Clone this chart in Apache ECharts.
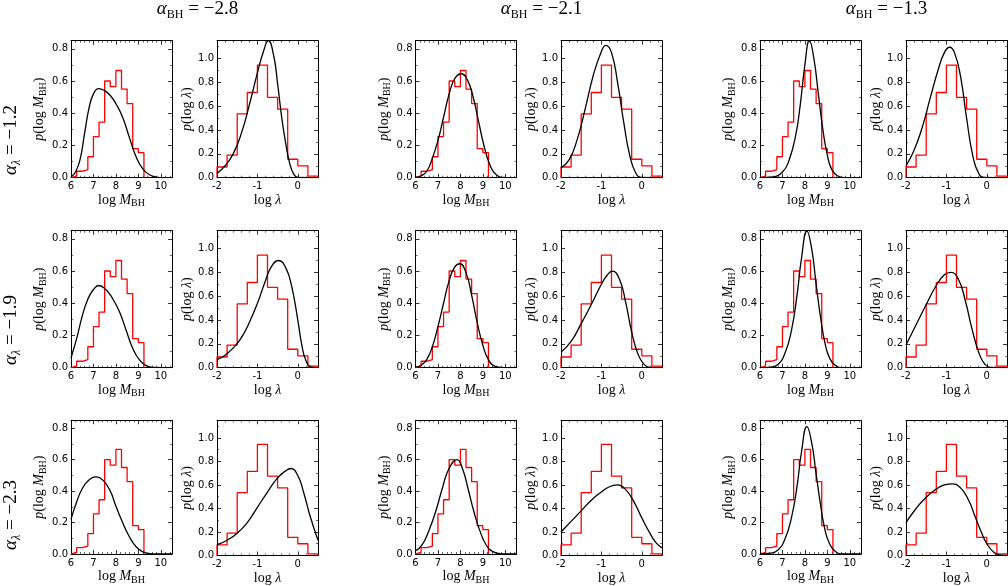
<!DOCTYPE html>
<html>
<head>
<meta charset="utf-8">
<script src="https://cdn.jsdelivr.net/npm/echarts@6/dist/echarts.min.js"></script>
<style>
html, body { margin: 0; background: #fff; }
#chart { width: 1008px; height: 586px; }
</style>
</head>
<body>
<div id="chart"></div>
<script>
// column / row parameter values
var alphaBH = ['−2.8', '−2.1', '−1.3'];
var alphaLam = ['−1.2', '−1.9', '−2.3'];

// observed histograms (same in every panel)
var mbhEdges = [6.0, 6.25, 6.5, 6.75, 7.0, 7.25, 7.5, 7.75, 8.0, 8.25, 8.5, 8.75, 9.0, 9.25];
var mbhHist = [0.01, 0.04, 0.05, 0.13, 0.255, 0.345, 0.60, 0.565, 0.665, 0.55, 0.46, 0.18, 0.155];
var lamEdges = [-2.0, -1.75, -1.5, -1.25, -1.0, -0.75, -0.5, -0.25, 0.0, 0.25, 0.5];
var lamHist = [0.09, 0.19, 0.535, 0.715, 0.945, 0.675, 0.575, 0.155, 0.10, 0.013];

// model curves, p(log M_BH), row = alpha_lambda, col = alpha_BH
var mbh_r1c1 = [[6.0,0.005],[6.2,0.035],[6.4,0.11],[6.6,0.27],[6.8,0.43],[7.0,0.52],[7.23,0.553],[7.5,0.54],[7.75,0.51],[8.0,0.46],[8.3,0.375],[8.6,0.25],[8.9,0.13],[9.2,0.055],[9.5,0.018],[9.8,0.004],[10.1,0],[10.5,0]];
var mbh_r1c2 = [[6.0,0.003],[6.25,0.012],[6.5,0.04],[6.75,0.12],[7.0,0.23],[7.25,0.375],[7.5,0.52],[7.75,0.615],[8.04,0.645],[8.3,0.61],[8.55,0.51],[8.8,0.355],[9.05,0.2],[9.3,0.085],[9.6,0.018],[10.0,0.001],[10.5,0]];
var mbh_r1c3 = [[6.0,0],[6.5,0.003],[7.0,0.035],[7.3,0.11],[7.6,0.27],[7.8,0.46],[8.0,0.70],[8.2,0.85],[8.4,0.74],[8.6,0.52],[8.8,0.30],[9.0,0.14],[9.2,0.05],[9.45,0.012],[9.8,0],[10.5,0]];
var mbh_r2c1 = [[6.0,0.06],[6.25,0.18],[6.5,0.32],[6.75,0.425],[7.0,0.485],[7.24,0.51],[7.55,0.485],[7.85,0.43],[8.15,0.35],[8.45,0.235],[8.75,0.12],[9.05,0.048],[9.35,0.013],[9.7,0.002],[10.5,0]];
var mbh_r2c2 = [[6.0,0.003],[6.25,0.015],[6.5,0.05],[6.75,0.13],[7.0,0.255],[7.25,0.40],[7.5,0.54],[7.75,0.625],[7.97,0.645],[8.25,0.59],[8.5,0.45],[8.75,0.28],[9.0,0.14],[9.25,0.05],[9.55,0.008],[10.0,0],[10.5,0]];
var mbh_r2c3 = [[6.0,0],[6.5,0.004],[6.8,0.02],[7.1,0.085],[7.4,0.23],[7.65,0.45],[7.85,0.68],[8.09,0.847],[8.3,0.74],[8.5,0.52],[8.7,0.31],[8.9,0.15],[9.1,0.06],[9.35,0.015],[9.7,0],[10.5,0]];
var mbh_r3c1 = [[6.0,0.22],[6.25,0.33],[6.5,0.415],[6.8,0.47],[7.13,0.49],[7.45,0.465],[7.75,0.40],[8.0,0.305],[8.3,0.20],[8.6,0.11],[8.9,0.046],[9.2,0.014],[9.6,0.001],[10.5,0]];
var mbh_r3c2 = [[6.0,0.02],[6.3,0.06],[6.6,0.15],[6.9,0.27],[7.2,0.42],[7.5,0.545],[7.85,0.60],[8.1,0.54],[8.35,0.41],[8.6,0.27],[8.85,0.155],[9.15,0.057],[9.45,0.015],[9.85,0.001],[10.5,0]];
var mbh_r3c3 = [[6.0,0],[6.5,0.005],[6.8,0.025],[7.1,0.09],[7.4,0.23],[7.65,0.43],[7.85,0.65],[8.09,0.81],[8.3,0.71],[8.5,0.51],[8.7,0.31],[8.9,0.15],[9.1,0.065],[9.35,0.017],[9.7,0],[10.5,0]];

// model curves, p(log lambda)
var lam_r1c1 = [[-2,0.035],[-1.8,0.10],[-1.6,0.20],[-1.4,0.37],[-1.2,0.61],[-1.0,0.88],[-0.85,1.06],[-0.73,1.15],[-0.6,1.03],[-0.5,0.79],[-0.4,0.51],[-0.3,0.29],[-0.2,0.12],[-0.1,0.03],[0.0,0.003],[0.5,0]];
var lam_r1c2 = [[-2,0.084],[-1.8,0.15],[-1.6,0.32],[-1.4,0.58],[-1.2,0.86],[-1.0,1.06],[-0.89,1.11],[-0.75,1.05],[-0.6,0.80],[-0.45,0.47],[-0.3,0.19],[-0.15,0.04],[0.0,0.002],[0.5,0]];
var lam_r1c3 = [[-2,0.10],[-1.8,0.23],[-1.6,0.42],[-1.4,0.67],[-1.2,0.91],[-1.05,1.05],[-0.92,1.095],[-0.8,1.05],[-0.65,0.85],[-0.5,0.50],[-0.35,0.19],[-0.2,0.035],[-0.05,0.002],[0.5,0]];
var lam_r2c1 = [[-2,0.067],[-1.8,0.105],[-1.6,0.165],[-1.4,0.25],[-1.2,0.38],[-1.0,0.54],[-0.8,0.73],[-0.65,0.85],[-0.48,0.90],[-0.3,0.84],[-0.15,0.68],[0.0,0.40],[0.1,0.19],[0.2,0.06],[0.32,0.008],[0.5,0]];
var lam_r2c2 = [[-2,0.13],[-1.75,0.22],[-1.5,0.37],[-1.25,0.53],[-1.0,0.70],[-0.85,0.78],[-0.73,0.81],[-0.55,0.74],[-0.4,0.55],[-0.25,0.30],[-0.1,0.12],[0.05,0.03],[0.2,0.003],[0.5,0]];
var lam_r2c3 = [[-2,0.19],[-1.75,0.36],[-1.5,0.53],[-1.25,0.69],[-1.05,0.78],[-0.89,0.80],[-0.7,0.74],[-0.53,0.56],[-0.37,0.33],[-0.2,0.13],[-0.05,0.03],[0.1,0.003],[0.5,0]];
var lam_r3c1 = [[-2,0.09],[-1.75,0.13],[-1.5,0.19],[-1.25,0.28],[-1.0,0.41],[-0.75,0.54],[-0.5,0.66],[-0.3,0.72],[-0.17,0.74],[0.0,0.68],[0.15,0.53],[0.3,0.34],[0.5,0.13]];
var lam_r3c2 = [[-2,0.20],[-1.75,0.29],[-1.5,0.38],[-1.25,0.47],[-1.0,0.54],[-0.8,0.585],[-0.6,0.60],[-0.4,0.56],[-0.2,0.46],[0.0,0.32],[0.2,0.19],[0.35,0.11],[0.5,0.065]];
var lam_r3c3 = [[-2,0.28],[-1.75,0.40],[-1.5,0.495],[-1.25,0.565],[-1.05,0.60],[-0.86,0.61],[-0.65,0.575],[-0.45,0.47],[-0.3,0.34],[-0.15,0.21],[0.0,0.10],[0.15,0.035],[0.3,0.006],[0.5,0]];

var mbhFits = [[mbh_r1c1, mbh_r1c2, mbh_r1c3], [mbh_r2c1, mbh_r2c2, mbh_r2c3], [mbh_r3c1, mbh_r3c2, mbh_r3c3]];
var lamFits = [[lam_r1c1, lam_r1c2, lam_r1c3], [lam_r2c1, lam_r2c2, lam_r2c3], [lam_r3c1, lam_r3c2, lam_r3c3]];

// layout of the panels (px)
var colLeft = [71, 217, 415.5, 561, 760, 906];
var rowTop = [40.7, 230.7, 420.3];
var panelW = 101, panelH = 137;

var serif = 'Liberation Serif';
var richName = {
    r: { fontFamily: serif, fontSize: 14, color: '#000', lineHeight: 17 },
    i: { fontFamily: serif, fontSize: 14, fontStyle: 'italic', color: '#000', lineHeight: 17 },
    s: { fontFamily: serif, fontSize: 10, color: '#000', lineHeight: 10, verticalAlign: 'bottom' }
};
var richBig = {
    r: { fontFamily: serif, fontSize: 19, color: '#000', lineHeight: 23 },
    i: { fontFamily: serif, fontSize: 19, fontStyle: 'italic', color: '#000', lineHeight: 23 },
    s: { fontFamily: serif, fontSize: 12, color: '#000', lineHeight: 12, verticalAlign: 'bottom' },
    si: { fontFamily: serif, fontSize: 12, fontStyle: 'italic', color: '#000', lineHeight: 12, verticalAlign: 'bottom' }
};

function histLine(edges, vals) {
    var pts = [[edges[0], 0]];
    for (var i = 0; i < vals.length; i++) pts.push([edges[i], vals[i]]);
    pts.push([edges[edges.length - 1], 0]);
    return pts;
}

function makeX(gi, isM, pos) {
    var bottom = pos === 'bottom';
    return {
        type: 'value', gridIndex: gi, position: pos,
        min: isM ? 6 : -2, max: isM ? 10.5 : 0.5, interval: 1,
        axisLine: { show: true, onZero: false, lineStyle: { color: '#000', width: 1 } },
        axisTick: { show: true, inside: true, length: 4, lineStyle: { color: '#000', width: 0.8 } },
        minorTick: { show: true, splitNumber: 5, length: 2, lineStyle: { color: '#000', width: 0.6 } },
        splitLine: { show: false },
        axisLabel: { show: bottom, showMaxLabel: false, margin: 4, fontSize: 10, fontFamily: 'DejaVu Sans', color: '#000' },
        name: bottom ? (isM ? '{r|log }{i|M}{s|BH}' : '{r|log }{i|λ}') : '',
        nameLocation: 'middle', nameGap: 14,
        nameTextStyle: { rich: richName }
    };
}

function makeY(gi, isM, pos) {
    var left = pos === 'left';
    return {
        type: 'value', gridIndex: gi, position: pos,
        min: 0, max: isM ? 0.85 : 1.15, interval: 0.2,
        axisLine: { show: true, onZero: false, lineStyle: { color: '#000', width: 1 } },
        axisTick: { show: true, inside: true, length: 4, lineStyle: { color: '#000', width: 0.8 } },
        minorTick: { show: true, splitNumber: 2, length: 2, lineStyle: { color: '#000', width: 0.6 } },
        splitLine: { show: false },
        axisLabel: {
            show: left, showMaxLabel: false, margin: 3, fontSize: 10, fontFamily: 'DejaVu Sans', color: '#000',
            formatter: function (v) { return v.toFixed(1); }
        },
        name: left ? (isM ? '{i|p}{r|(log }{i|M}{s|BH}{r|)}' : '{i|p}{r|(log }{i|λ}{r|)}') : '',
        nameLocation: 'middle', nameGap: 21,
        nameTextStyle: { rich: richName }
    };
}

var grids = [], xAxes = [], yAxes = [], series = [];
for (var r = 0; r < 3; r++) {
    for (var c = 0; c < 3; c++) {
        for (var k = 0; k < 2; k++) {
            var isM = k === 0;
            var gi = grids.length;
            grids.push({ left: colLeft[c * 2 + k], top: rowTop[r], width: panelW, height: panelH });
            var xi = xAxes.length, yi = yAxes.length;
            xAxes.push(makeX(gi, isM, 'bottom'));
            xAxes.push(makeX(gi, isM, 'top'));
            yAxes.push(makeY(gi, isM, 'left'));
            yAxes.push(makeY(gi, isM, 'right'));
            series.push({
                type: 'line', xAxisIndex: xi, yAxisIndex: yi, step: 'end',
                data: isM ? histLine(mbhEdges, mbhHist) : histLine(lamEdges, lamHist),
                showSymbol: false, silent: true,
                lineStyle: { color: '#ff0000', width: 1.3 }
            });
            series.push({
                type: 'line', xAxisIndex: xi, yAxisIndex: yi,
                data: isM ? mbhFits[r][c] : lamFits[r][c],
                smooth: 0.5,
                showSymbol: false, silent: true,
                lineStyle: { color: '#000', width: 1.3 }
            });
        }
    }
}

var graphics = [];
var titleX = [197.5, 541.5, 886.5];
for (var c2 = 0; c2 < 3; c2++) {
    graphics.push({
        type: 'text', x: titleX[c2], y: 9,
        style: {
            text: '{i|α}{s|BH}{r| = ' + alphaBH[c2] + '}', rich: richBig,
            align: 'center', verticalAlign: 'middle'
        }
    });
}
var rowLabelY = [140, 330, 515];
for (var r2 = 0; r2 < 3; r2++) {
    graphics.push({
        type: 'text', x: 11, y: rowLabelY[r2], rotation: Math.PI / 2,
        style: {
            text: '{i|α}{si|λ}{r| = ' + alphaLam[r2] + '}', rich: richBig,
            align: 'center', verticalAlign: 'middle'
        }
    });
}

var option = {
    animation: false,
    backgroundColor: '#fff',
    grid: grids,
    xAxis: xAxes,
    yAxis: yAxes,
    series: series,
    graphic: graphics
};

var myChart = echarts.init(document.getElementById('chart'));
myChart.setOption(option);
</script>
</body>
</html>
